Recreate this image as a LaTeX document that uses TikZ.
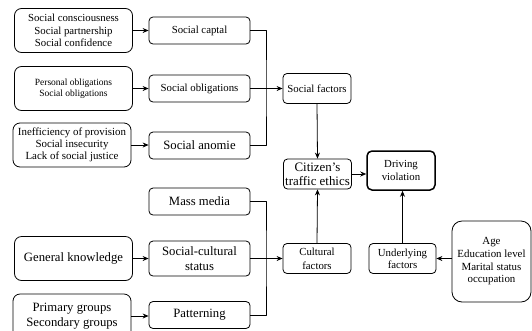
\documentclass[tikz,border=0pt]{standalone}
\usepackage{fontspec}
\setmainfont{Liberation Serif}
\usetikzlibrary{arrows.meta}
\tikzset{
  box/.style={draw, rounded corners=4pt, align=center, inner sep=1pt, minimum width=101pt, minimum height=27pt},
  src/.style={box, rounded corners=7pt, minimum width=118pt, minimum height=44pt},
  fac/.style={box, minimum width=68pt, minimum height=30pt},
  sm/.style={font=\fontsize{10.8}{12.5}\selectfont},
  bg/.style={font=\fontsize{12.7}{14.5}\selectfont},
}
\begin{document}
\begin{tikzpicture}[x=1pt, y=-1pt, line join=round, line width=0.8pt, >={Stealth[length=6pt,width=5pt]}]
\useasboundingbox (0,0) rectangle (532,330);
% social side
\node[src, sm] (lb1) at (73.5,30.5) {Social consciousness\\Social partnership\\Social confidence};
\node[src, font=\fontsize{9.5}{10.5}\selectfont] (lb2) at (73.5,88.5) {Personal obligations\\Social obligations};
\node[src, font=\fontsize{10.9}{12}\selectfont] (lb3) at (72,145) {Inefficiency of provision\\Social insecurity\\Lack of social justice};
\node[box, sm] (sc) at (199.5,30.5) {Social captal};
\node[box, sm] (so) at (199.5,88.5) {Social obligations};
\node[box, bg] (sa) at (199.5,145.5) {Social anomie};
\node[fac, sm] (sf) at (317,88.5) {Social factors};
% cultural side
\node[box, bg] (mm) at (199.5,201.5) {Mass media};
\node[src, bg] (gk) at (73.5,258.5) {General knowledge};
\node[box, bg, minimum height=35pt] (scs) at (199.5,258.5) {Social-cultural\\status};
\node[src, bg] (pg) at (72,316) {Primary groups\\Secondary groups};
\node[box, bg] (pt) at (199.5,315) {Patterning};
\node[fac, font=\fontsize{10.8}{14}\selectfont] (cf) at (317,258.5) {Cultural\\factors};
% middle and right
\node[fac, font=\fontsize{12.9}{14}\selectfont, inner sep=0pt] (ce) at (317.5,174) {Citizen's\\traffic ethics};
\node[fac, sm, line width=1.5pt, rounded corners=5pt, minimum height=39pt] (dv) at (401,170.5) {Driving\\violation};
\node[fac, font=\fontsize{10.8}{12}\selectfont, minimum width=67pt] (uf) at (402.5,258.5) {Underlying\\factors};
\node[box, font=\fontsize{10.9}{12.7}\selectfont, rounded corners=10pt, minimum width=79pt, minimum height=81pt] (age) at (491.5,261.5) {Age\\Education level\\Marital status\\occupation};
% connectors
\coordinate (j1) at (266,88.5);
\coordinate (j2) at (266,258.5);
\foreach \a/\b in {lb1/sc,lb2/so,lb3/sa,gk/scs,pg/pt}
  \draw[->] (\a.east) -- (\a.east -| \b.west);
\draw (sc.east) -| (j1) |- (sa.east);
\draw (mm.east) -| (j2) |- (pt.east);
\draw[->] (so.east) -- (sf.west);
\draw[->] (scs.east) -- (cf.west);
\draw[->] (sf.south) -- (ce.north);
\draw[->] (cf.north) -- (ce.south);
\draw[->] (ce.east) -- (ce.east -| dv.west);
\draw[->] (uf.north) -- (uf.north |- dv.south);
\draw[->] (age.west |- uf.east) -- (uf.east);
\end{tikzpicture}
\end{document}
